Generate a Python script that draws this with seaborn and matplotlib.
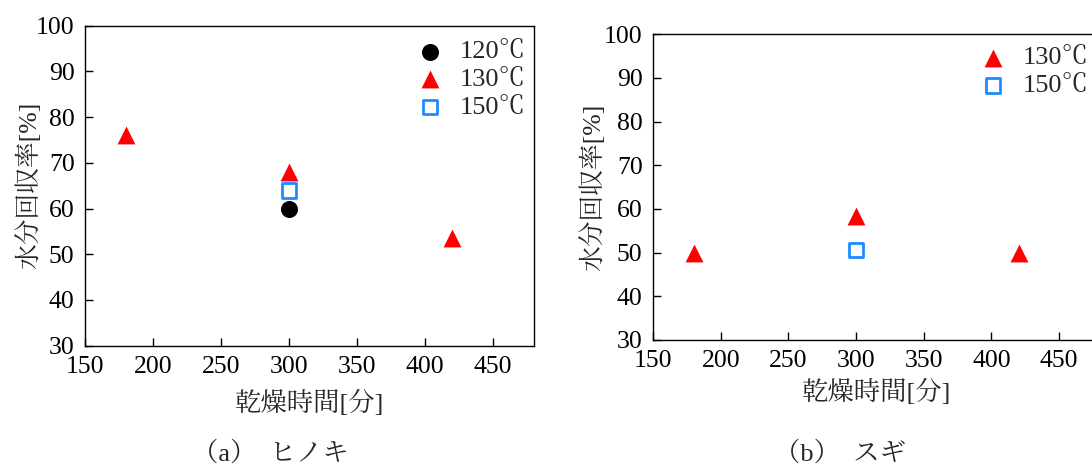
import matplotlib
matplotlib.use("Agg")
import matplotlib.pyplot as plt
from matplotlib.font_manager import FontProperties
import seaborn as sns
import pandas as pd

sns.set_style("white")
FAMILIES = ['Liberation Serif', 'Noto Serif CJK JP', 'Noto Serif JP', 'Noto Sans CJK JP']
plt.rcParams['font.family'] = FAMILIES
plt.rcParams['axes.unicode_minus'] = False

# ヒノキ (hinoki)
hinoki_120_x = [300]
hinoki_120_y = [60]
hinoki_130_x = [180, 300, 420]
hinoki_130_y = [76, 68, 53.5]
hinoki_150_x = [300]
hinoki_150_y = [64]

# スギ (sugi)
sugi_130_x = [180, 300, 420]
sugi_130_y = [50, 58.5, 50]
sugi_150_x = [300]
sugi_150_y = [50.6]

x_ticks = [150, 200, 250, 300, 350, 400, 450]
y_ticks = [30, 40, 50, 60, 70, 80, 90, 100]
series_labels = ["120℃", "130℃", "150℃"]
x_label = "乾燥時間[分]"
y_label = "水分回収率[%]"
captions = ["（a）  ヒノキ", "（b）  スギ"]

RED = "#ff0000"
BLUE = "#1e8cff"


def fp(size):
    return FontProperties(family=FAMILIES, size=size)


W, H = 1092, 467
fig = plt.figure(figsize=(W / 100, H / 100), dpi=100)

# left panel; the right panel runs past the right edge of the canvas
ax1 = fig.add_axes([85 / W, 1 - 345.7 / H, 449 / W, 320 / H])
ax2 = fig.add_axes([653 / W, 1 - 340 / H, 446.8 / W, 305.7 / H])


def draw_series(ax, kind, xs, ys, label):
    df = pd.DataFrame({"x": xs, "y": ys})
    if kind == "circle":
        sns.scatterplot(data=df, x="x", y="y", ax=ax, marker="o", s=150,
                        color="black", edgecolor="black", linewidth=0,
                        label=label, zorder=3)
    elif kind == "triangle":
        sns.scatterplot(data=df, x="x", y="y", ax=ax, marker="^", s=165,
                        color=RED, edgecolor=RED, linewidth=0,
                        label=label, zorder=3)
    else:
        sns.scatterplot(data=df, x="x", y="y", ax=ax, marker="s", s=110,
                        facecolors="none", edgecolor=BLUE, linewidth=2.0,
                        label=label, zorder=3)


draw_series(ax1, "circle", hinoki_120_x, hinoki_120_y, series_labels[0])
draw_series(ax1, "triangle", hinoki_130_x, hinoki_130_y, series_labels[1])
draw_series(ax1, "square", hinoki_150_x, hinoki_150_y, series_labels[2])

draw_series(ax2, "triangle", sugi_130_x, sugi_130_y, series_labels[1])
draw_series(ax2, "square", sugi_150_x, sugi_150_y, series_labels[2])

for ax in (ax1, ax2):
    ax.set_xlim(150, 480)
    ax.set_ylim(30, 100)
    ax.set_xticks(x_ticks)
    ax.set_yticks(y_ticks)
    ax.tick_params(axis="both", which="major", direction="in", length=6,
                   width=1.0, color="black", labelcolor="black",
                   top=False, right=False, left=True, bottom=True)
    ax.tick_params(axis="y", pad=7.5)
    ax.tick_params(axis="x", pad=7.5)
    for lab in ax.get_xticklabels() + ax.get_yticklabels():
        lab.set_fontproperties(fp(18.5))
    for sp in ax.spines.values():
        sp.set_visible(True)
        sp.set_color("black")
        sp.set_linewidth(1.0)
    ax.set_xlabel(x_label, fontproperties=fp(19), va="center")
    ax.set_ylabel(y_label, fontproperties=fp(18.5), va="center", ha="center")
    ax.grid(False)

ax1.xaxis.set_label_coords(0.5, -0.179)
ax1.yaxis.set_label_coords(-0.127, 0.5)
ax2.xaxis.set_label_coords(0.5, -0.170)
ax2.yaxis.set_label_coords(-0.1365, 0.5)

legend_kw = dict(loc="upper left", bbox_transform=fig.transFigure,
                 frameon=False, prop=fp(19), handletextpad=0.6,
                 labelspacing=0.16, borderpad=0, handlelength=1.0,
                 borderaxespad=0)
ax1.legend(bbox_to_anchor=(417 / W, 1 - 40 / H), **legend_kw)
ax2.legend(bbox_to_anchor=(980 / W, 1 - 46 / H), **legend_kw)

fig.text(270 / W, 1 - 453 / H, captions[0], fontproperties=fp(19), ha="center", va="center")
fig.text(840 / W, 1 - 453 / H, captions[1], fontproperties=fp(19), ha="center", va="center")

fig.savefig("out.png", dpi=100)
